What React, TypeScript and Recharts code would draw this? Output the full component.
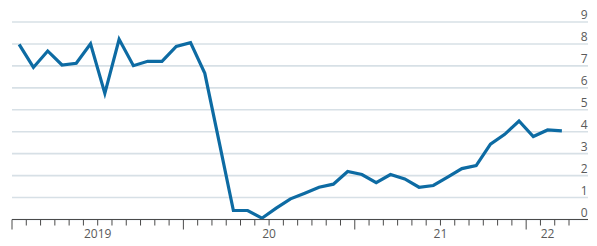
import React from "react";
import { CartesianGrid, Line, LineChart, XAxis, YAxis } from "recharts";

const months = [
  "2019-01", "2019-02", "2019-03", "2019-04", "2019-05", "2019-06",
  "2019-07", "2019-08", "2019-09", "2019-10", "2019-11", "2019-12",
  "2020-01", "2020-02", "2020-03", "2020-04", "2020-05", "2020-06",
  "2020-07", "2020-08", "2020-09", "2020-10", "2020-11", "2020-12",
  "2021-01", "2021-02", "2021-03", "2021-04", "2021-05", "2021-06",
  "2021-07", "2021-08", "2021-09", "2021-10", "2021-11", "2021-12",
  "2022-01", "2022-02", "2022-03"
];

const values = [
  7.98, 6.93, 7.68, 7.04, 7.12, 8.01, 5.75, 8.21, 7.01, 7.21, 7.21, 7.89,
  8.06, 6.66, 3.55, 0.41, 0.41, 0.06, 0.52, 0.94, 1.2, 1.47, 1.61, 2.19,
  2.05, 1.68, 2.05, 1.85, 1.47, 1.55, 1.93, 2.32, 2.46, 3.43, 3.88, 4.49,
  3.78, 4.08, 4.04
];

const yearLabels = ["2019", "20", "21", "22"];
const yTicks = [0, 1, 2, 3, 4, 5, 6, 7, 8, 9];

// x axis runs in months from Jan 2019; each point sits mid-month
const X_MAX = 40.33;
const data = months.map((m, i) => ({ month: m, x: i + 0.5, value: values[i] }));

const monthTicks = Array.from({ length: Math.floor(X_MAX) }, (_, i) => i);
const labelPos: Record<string, string> = {};
yearLabels.forEach((label, i) => {
  const start = i * 12;
  const end = Math.min(start + 12, Math.floor(X_MAX) - 1);
  labelPos[String((start + end) / 2)] = label;
});
const xTicks = [...monthTicks, ...Object.keys(labelPos).map(Number).filter((v) => !Number.isInteger(v))];

const FONT = "'Open Sans', sans-serif";
const TEXT = "#5a5a5a";

function MonthTick(props: any) {
  const { x, y, payload } = props;
  const v = payload.value as number;
  const label = labelPos[String(v)];
  return (
    <g>
      {Number.isInteger(v) && (
        <line x1={x} x2={x} y1={y} y2={y + (v % 12 === 0 ? 10 : 6)} stroke="#4a4a4a" strokeWidth={1} />
      )}
      {label && (
        <text x={x} y={y + 18.5} textAnchor="middle" fontSize={12} fontFamily={FONT} fill={TEXT}>
          {label}
        </text>
      )}
    </g>
  );
}

function ValueTick(props: any) {
  const { y, payload } = props;
  return (
    <text x={587.5} y={y - 3} textAnchor="end" fontSize={12} fontFamily={FONT} fill={TEXT}>
      {payload.value}
    </text>
  );
}

export default function App() {
  return (
    <div style={{ position: "absolute", left: 0, top: 0, width: 597, height: 246, background: "#fff" }}>
      <LineChart width={597} height={246} data={data} margin={{ top: 22, right: 8, bottom: 0, left: 12 }}>
        <CartesianGrid vertical={false} stroke="#d7e0e6" strokeWidth={1.6} />
        <XAxis
          dataKey="x"
          type="number"
          domain={[0, X_MAX]}
          ticks={xTicks}
          interval={0}
          allowDataOverflow
          height={26.5}
          tickLine={false}
          tickSize={0}
          tickMargin={0}
          axisLine={{ stroke: "#4a4a4a", strokeWidth: 1 }}
          tick={<MonthTick />}
        />
        <YAxis
          yAxisId={0}
          orientation="right"
          type="number"
          domain={[0, 9]}
          ticks={yTicks}
          interval={0}
          width={1}
          axisLine={false}
          tickLine={false}
          tickSize={0}
          tickMargin={0}
          tick={ValueTick}
        />
        <Line
          type="linear"
          dataKey="value"
          stroke="#0d6ba3"
          strokeWidth={3.2}
          dot={false}
          isAnimationActive={false}
        />
      </LineChart>
    </div>
  );
}
